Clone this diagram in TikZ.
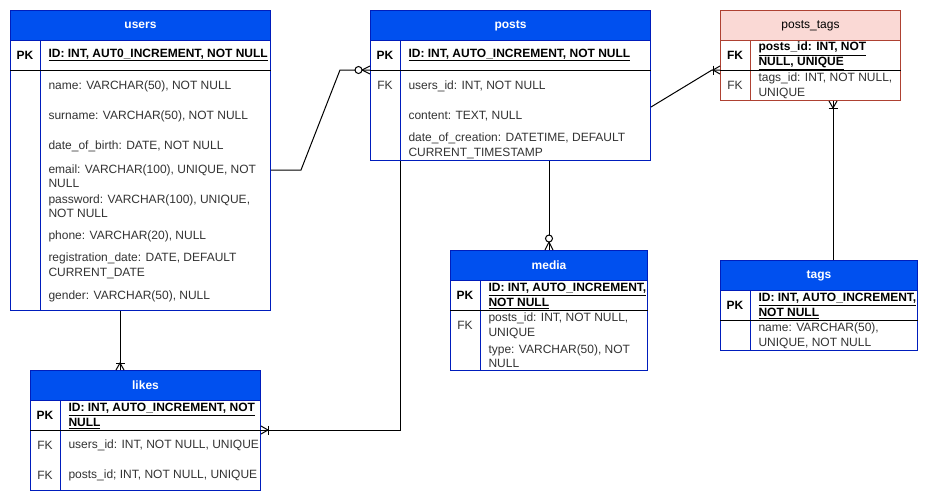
\documentclass[12pt,tikz,border=0pt]{standalone}
\usepackage{fontspec}
\setmainfont{Liberation Sans}
\usetikzlibrary{calc}

\definecolor{azulcab}{HTML}{0050EF}
\definecolor{azulborde}{HTML}{001DBC}
\definecolor{rojoborde}{HTML}{AE4132}
\definecolor{rosacab}{HTML}{FAD9D5}
\definecolor{gristexto}{HTML}{333333}

\tikzset{
  marco/.style={draw=azulborde, fill=white, anchor=north west, inner sep=0pt},
  cabecera/.style={draw=azulborde, fill=azulcab, text=white, font=\bfseries,
    anchor=north west, inner sep=0pt, minimum height=30},
  clave/.style={inner sep=0pt, text=gristexto},
  pk/.style={inner sep=0pt, font=\bfseries},
  campo/.style={anchor=west, align=left, inner sep=0pt, text=gristexto},
  campopk/.style={anchor=west, align=left, inner sep=0pt, font=\bfseries},
  % terminaciones pata de gallo
  unomuchos/.pic={
    \draw (-7,-4.5) -- (-7,4.5);
    \draw (0,-4) -- (-7,0) -- (0,4);
  },
  ceromuchos/.pic={
    \draw (0,-4) -- (-8,0) -- (0,4);
    \draw[fill=white] (-11.5,0) circle (3.5pt);
  }
}

\begin{document}
\begin{tikzpicture}[x=1pt, y=-1pt, line width=1pt]
  \useasboundingbox (0,0) rectangle (927,501);

  % Tabla users
  \node[marco, minimum width=260, minimum height=300] (users) at (10,10) {};
  \node[cabecera, minimum width=260] (users-h) at (users.north west) {users};
  \draw[azulborde] ($(users-h.south west)+(30,0)$) -- ($(users.south west)+(30,0)$);
  \draw ($(users.north west)+(0,60)$) -- ($(users.north east)+(0,60)$);
  \node[pk] (users-k) at ($(users.north west)+(15,45)$) {PK};
  \node[campopk] (users-id) at ($(users.north west)+(38,45)$) {\underline{ID: INT, AUT0\_INCREMENT, NOT NULL}};
  \foreach \t [count=\i] in {{name: VARCHAR(50), NOT NULL},
      {surname: VARCHAR(50), NOT NULL}, {date\_of\_birth: DATE, NOT NULL},
      {email: VARCHAR(100), UNIQUE, NOT\\NULL}, {password: VARCHAR(100), UNIQUE,\\NOT NULL},
      {phone: VARCHAR(20), NULL}, {registration\_date: DATE, DEFAULT\\CURRENT\_DATE},
      {gender: VARCHAR(50), NULL}}
    \node[campo] (users-\i) at ($(users.north west)+(38,46+30*\i)$) {\t};

  % Tabla posts
  \node[marco, minimum width=280, minimum height=150] (posts) at (370,10) {};
  \node[cabecera, minimum width=280] (posts-h) at (posts.north west) {posts};
  \draw[azulborde] ($(posts-h.south west)+(30,0)$) -- ($(posts.south west)+(30,0)$);
  \draw ($(posts.north west)+(0,60)$) -- ($(posts.north east)+(0,60)$);
  \node[pk] (posts-k) at ($(posts.north west)+(15,45)$) {PK};
  \node[campopk] (posts-id) at ($(posts.north west)+(38,45)$) {\underline{ID: INT, AUTO\_INCREMENT, NOT NULL}};
  \node[clave] (posts-fk) at ($(posts.north west)+(15,75)$) {FK};
  \foreach \t [count=\i] in {{users\_id: INT, NOT NULL}, {content: TEXT, NULL},
      {date\_of\_creation: DATETIME, DEFAULT\\CURRENT\_TIMESTAMP}}
    \node[campo] (posts-\i) at ($(posts.north west)+(38,46+30*\i)$) {\t};

  % Tabla posts_tags
  \node[marco, draw=rojoborde, minimum width=180, minimum height=90] (ptags) at (720,10) {};
  \node[cabecera, draw=rojoborde, fill=rosacab, text=black, font=\normalfont,
    minimum width=180] (ptags-h) at (ptags.north west) {posts\_tags};
  \draw[rojoborde] ($(ptags-h.south west)+(30,0)$) -- ($(ptags.south west)+(30,0)$);
  \draw ($(ptags.north west)+(0,60)$) -- ($(ptags.north east)+(0,60)$);
  \node[pk] (ptags-k) at ($(ptags.north west)+(15,45)$) {FK};
  \node[campopk] (ptags-1) at ($(ptags.north west)+(38,46)$) {\underline{posts\_id: INT, NOT}\\\underline{NULL, UNIQUE}};
  \node[clave] (ptags-fk) at ($(ptags.north west)+(15,75)$) {FK};
  \node[campo] (ptags-2) at ($(ptags.north west)+(38,76)$) {tags\_id: INT, NOT NULL,\\UNIQUE};

  % Tabla media
  \node[marco, minimum width=197, minimum height=120] (media) at (450,250) {};
  \node[cabecera, minimum width=197] (media-h) at (media.north west) {media};
  \draw[azulborde] ($(media-h.south west)+(30,0)$) -- ($(media.south west)+(30,0)$);
  \draw ($(media.north west)+(0,60)$) -- ($(media.north east)+(0,60)$);
  \node[pk] (media-k) at ($(media.north west)+(15,45)$) {PK};
  \node[campopk] (media-id) at ($(media.north west)+(38,46)$) {\underline{ID: INT, AUTO\_INCREMENT,}\\\underline{NOT NULL}};
  \node[clave] (media-fk) at ($(media.north west)+(15,75)$) {FK};
  \foreach \t [count=\i] in {{posts\_id: INT, NOT NULL,\\UNIQUE}, {type: VARCHAR(50), NOT\\NULL}}
    \node[campo] (media-\i) at ($(media.north west)+(38,46+30*\i)$) {\t};

  % Tabla tags
  \node[marco, minimum width=197, minimum height=90] (tags) at (720,260) {};
  \node[cabecera, minimum width=197] (tags-h) at (tags.north west) {tags};
  \draw[azulborde] ($(tags-h.south west)+(30,0)$) -- ($(tags.south west)+(30,0)$);
  \draw ($(tags.north west)+(0,60)$) -- ($(tags.north east)+(0,60)$);
  \node[pk] (tags-k) at ($(tags.north west)+(15,45)$) {PK};
  \node[campopk] (tags-id) at ($(tags.north west)+(38,46)$) {\underline{ID: INT, AUTO\_INCREMENT,}\\\underline{NOT NULL}};
  \node[campo] (tags-1) at ($(tags.north west)+(38,76)$) {name: VARCHAR(50),\\UNIQUE, NOT NULL};

  % Tabla likes
  \node[marco, minimum width=230, minimum height=120] (likes) at (30,370) {};
  \node[cabecera, minimum width=230] (likes-h) at (likes.north west) {likes};
  \draw[azulborde] ($(likes-h.south west)+(30,0)$) -- ($(likes.south west)+(30,0)$);
  \draw ($(likes.north west)+(0,60)$) -- ($(likes.north east)+(0,60)$);
  \node[pk] (likes-k) at ($(likes.north west)+(15,45)$) {PK};
  \node[campopk] (likes-id) at ($(likes.north west)+(38,46)$) {\underline{ID: INT, AUTO\_INCREMENT, NOT}\\\underline{NULL}};
  \foreach \t [count=\i] in {{users\_id: INT, NOT NULL, UNIQUE}, {posts\_id; INT, NOT NULL, UNIQUE}} {
    \node[clave] (likes-fk\i) at ($(likes.north west)+(15,45+30*\i)$) {FK};
    \node[campo] (likes-\i) at ($(likes.north west)+(38,45+30*\i)$) {\t};
  }

  % Relaciones
  \draw ($(users.north east)+(0,160)$) -- ++(30,0) -- ($(posts.north west)+(-30,60)$)
    -- ($(posts.north west)+(0,60)$) pic{ceromuchos};
  \draw ($(users.south west)+(110,0)$) -- ($(likes.north west)+(90,0)$) pic[rotate=-90]{unomuchos};
  \draw ($(posts.south west)+(30,0)$) |- ($(likes.north east)+(0,60)$) pic[rotate=180]{unomuchos};
  \draw (media.north |- posts.south) -- (media.north) pic[rotate=-90]{ceromuchos};
  \draw ($(posts.north east)+(0,97)$) -- ($(ptags.north west)+(-8,60)$)
    -- ($(ptags.north west)+(0,60)$) pic{unomuchos};
  \draw ($(tags.north west)+(113,0)$) -- ($(ptags.south west)+(113,0)$) pic[rotate=90]{unomuchos};
\end{tikzpicture}
\end{document}
